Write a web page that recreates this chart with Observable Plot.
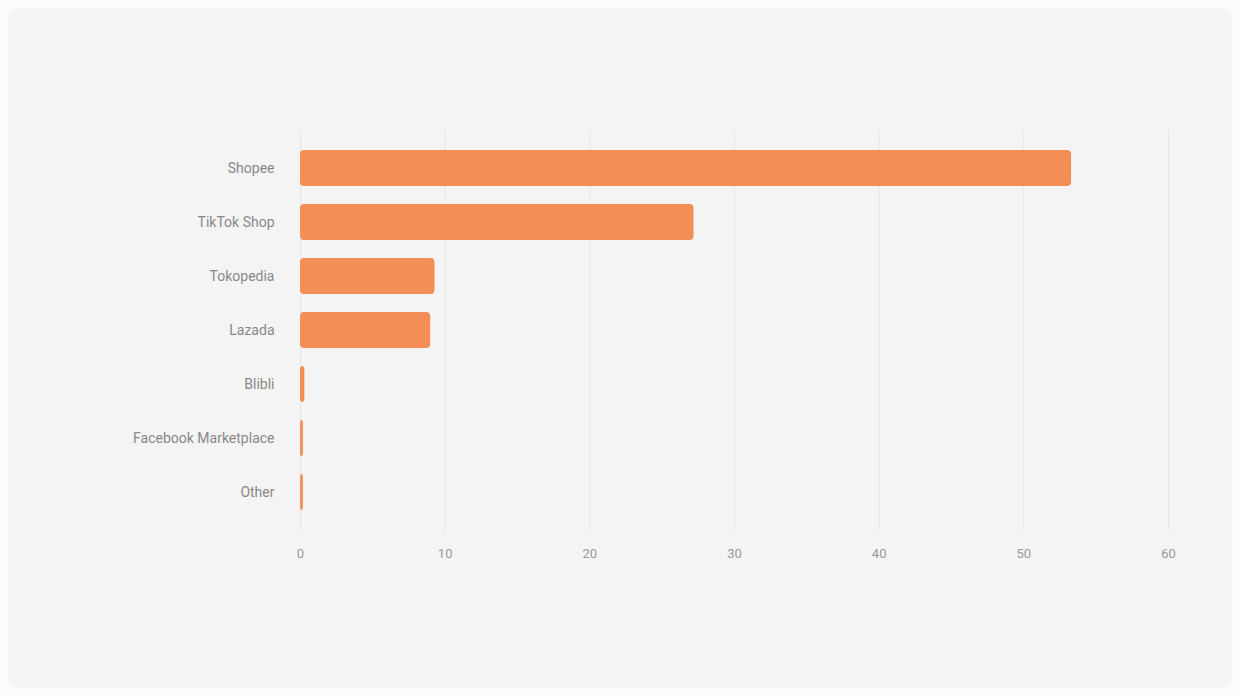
<!DOCTYPE html>
<html><head><meta charset="utf-8">
<script src="https://cdn.jsdelivr.net/npm/d3@7"></script>
<script src="https://cdn.jsdelivr.net/npm/@observablehq/plot@0.6"></script>
<style>
html,body{margin:0;padding:0;background:#fbfbfb;overflow:hidden;}
#card{position:absolute;left:8px;top:8px;width:1224px;height:680px;background:#f4f4f4;border-radius:10px;overflow:hidden;}
#chart{position:absolute;left:-8px;top:-8px;width:1240px;height:696px;}
#chart svg{max-width:none !important;}
</style></head>
<body><div id="card"><div id="chart"></div></div>
<script>
const platforms = ["Shopee","TikTok Shop","Tokopedia","Lazada","Blibli","Facebook Marketplace","Other"];
const shares = [53.3, 27.2, 9.3, 9.0, 0.3, 0.2, 0.2];
const xTicks = [0,10,20,30,40,50,60];
const data = platforms.map((p,i)=>({platform:p, value:shares[i]}));
const chart = Plot.plot({
  width:1240, height:696,
  marginLeft:300, marginRight:72, marginTop:130, marginBottom:166,
  style:{background:"transparent", fontFamily:"Roboto, sans-serif", fontSize:"13px", color:"#999"},
  x:{domain:[0,60], ticks:xTicks, label:null},
  y:{domain:platforms, label:null, padding:0.33},
  marks:[
    Plot.gridX(xTicks,{stroke:"#e6e6e6", strokeOpacity:1}),
    Plot.barX(data,{x:"value", y:"platform", fill:"#f28e56", rx:4}),
    Plot.axisY({tickSize:0, tickPadding:26, fill:"#888", fontSize:14}),
    Plot.axisX({ticks:xTicks, tickSize:0, tickPadding:18, fill:"#999", fontSize:13, label:null})
  ]
});
document.getElementById("chart").appendChild(chart);
</script></body></html>
